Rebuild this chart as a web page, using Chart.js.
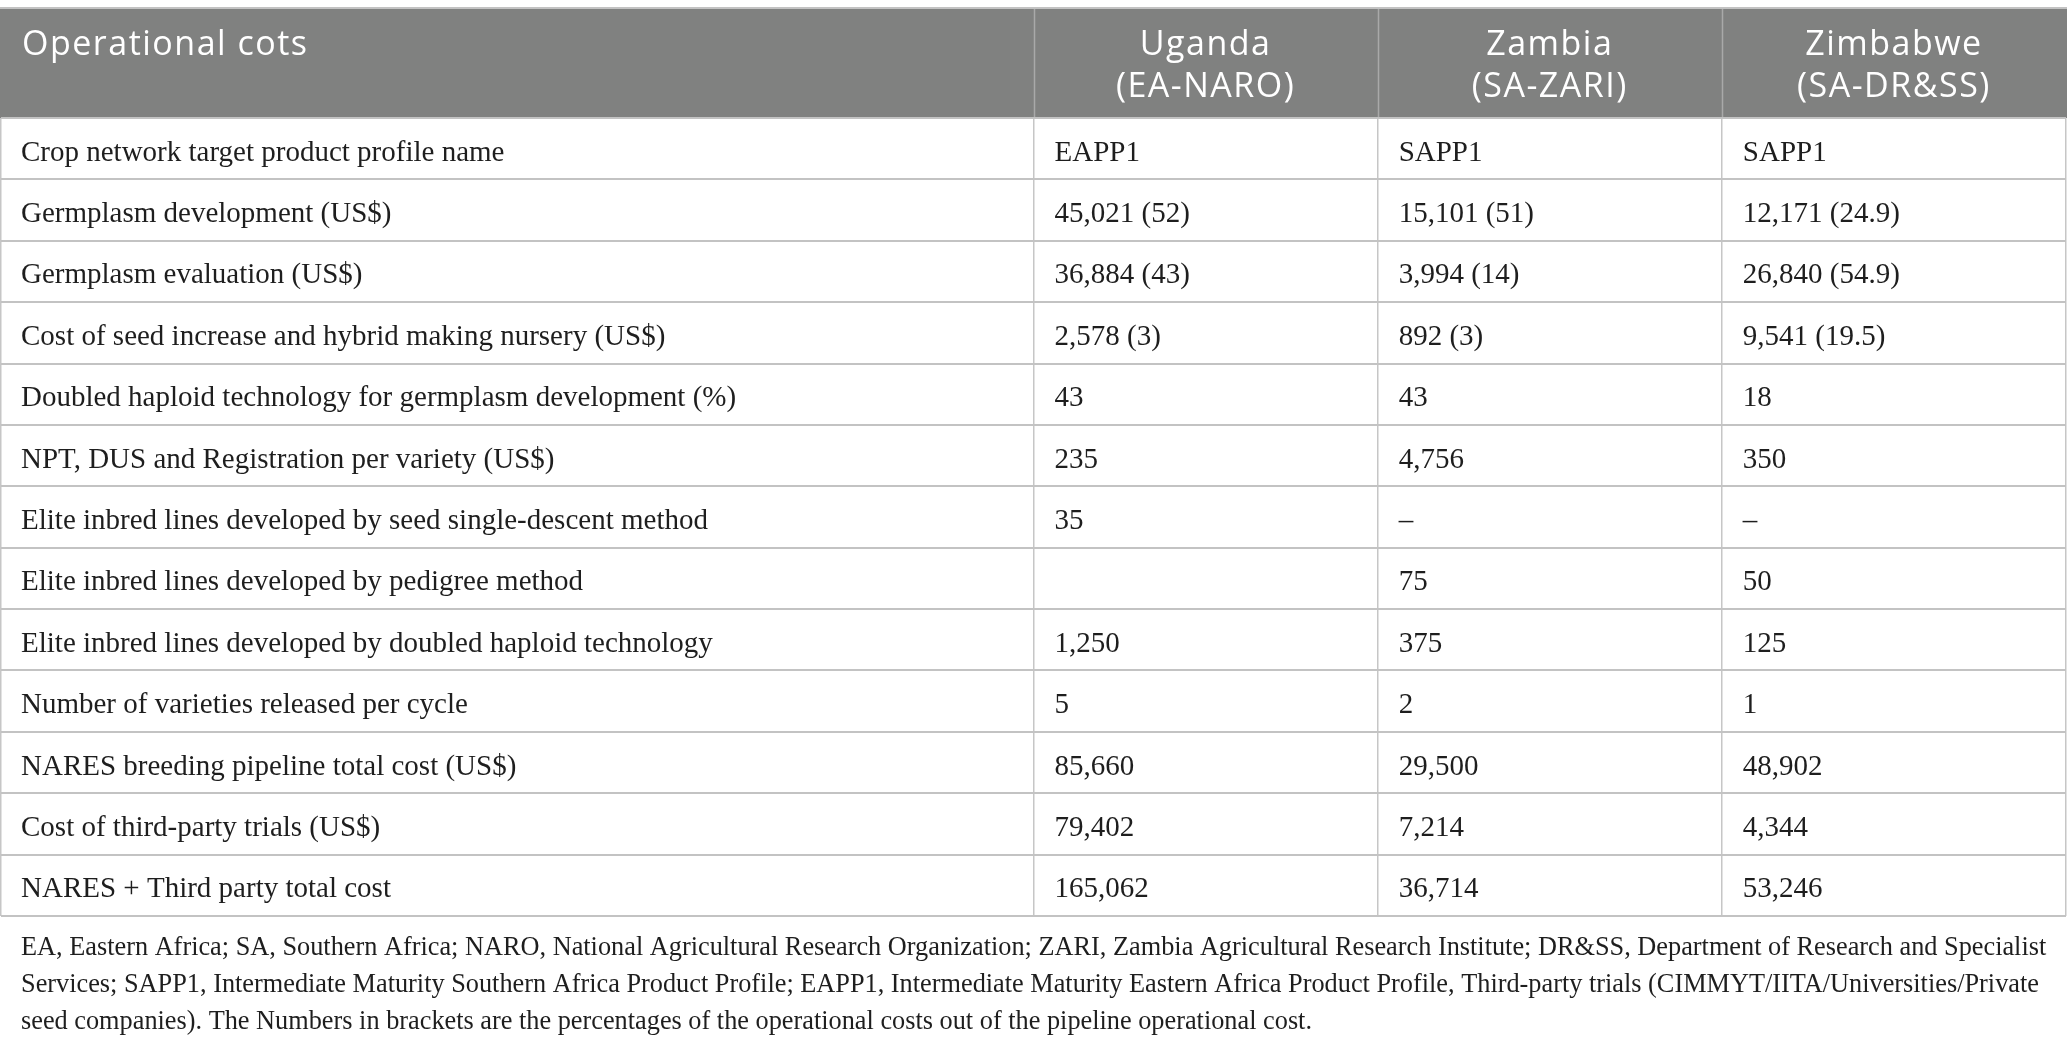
<!DOCTYPE html>
<html><head><meta charset="utf-8">
<script src="https://cdn.jsdelivr.net/npm/chart.js@4.4.1/dist/chart.umd.min.js"></script>
<style>html,body{margin:0;padding:0;background:#fff;overflow:hidden}canvas{display:block}</style>
</head><body>
<canvas id="c" width="2067" height="1048"></canvas>
<script>
// ---------- data ----------
const headerTitle = "Operational cots";
const countries = ["Uganda", "Zambia", "Zimbabwe"];
const programs = ["(EA-NARO)", "(SA-ZARI)", "(SA-DR&SS)"];
const rowLabels = [
  "Crop network target product profile name",
  "Germplasm development (US$)",
  "Germplasm evaluation (US$)",
  "Cost of seed increase and hybrid making nursery (US$)",
  "Doubled haploid technology for germplasm development (%)",
  "NPT, DUS and Registration per variety (US$)",
  "Elite inbred lines developed by seed single-descent method",
  "Elite inbred lines developed by pedigree method",
  "Elite inbred lines developed by doubled haploid technology",
  "Number of varieties released per cycle",
  "NARES breeding pipeline total cost (US$)",
  "Cost of third-party trials (US$)",
  "NARES + Third party total cost"
];
const ugandaValues = ["EAPP1", "45,021 (52)", "36,884 (43)", "2,578 (3)", "43", "235", "35", "", "1,250", "5", "85,660", "79,402", "165,062"];
const zambiaValues = ["SAPP1", "15,101 (51)", "3,994 (14)", "892 (3)", "43", "4,756", "–", "75", "375", "2", "29,500", "7,214", "36,714"];
const zimbabweValues = ["SAPP1", "12,171 (24.9)", "26,840 (54.9)", "9,541 (19.5)", "18", "350", "–", "50", "125", "1", "48,902", "4,344", "53,246"];
const footnoteLines = [
  "EA, Eastern Africa; SA, Southern Africa; NARO, National Agricultural Research Organization; ZARI, Zambia Agricultural Research Institute; DR&SS, Department of Research and Specialist",
  "Services; SAPP1, Intermediate Maturity Southern Africa Product Profile; EAPP1, Intermediate Maturity Eastern Africa Product Profile, Third-party trials (CIMMYT/IITA/Universities/Private",
  "seed companies). The Numbers in brackets are the percentages of the operational costs out of the pipeline operational cost."
];

// ---------- layout (not data) ----------
const colStart = [0, 3, 4, 5];
const colEnd = [3, 4, 5, 6];
const colEdges = [0, 3, 4, 5, 6];
const HEADER_TOP = 9;
const TABLE_TOP = 118;
const TABLE_BOTTOM = 916;
const CELL_PAD = 21;
const BODY_FONT = '29px "Liberation Serif"';
const HEAD_FONT = '34px "Open Sans"';
const NOTE_FONT = '26.3px "Liberation Serif"';
const TEXT_COLOR = '#1e1e1e';

const columns = [rowLabels, ugandaValues, zambiaValues, zimbabweValues];

const datasets = columns.map((texts, k) => ({
  label: k === 0 ? headerTitle : countries[k - 1],
  cellText: texts,
  data: rowLabels.map(r => ({ x: colStart[k], y: r })),
  pointRadius: 0,
  pointHoverRadius: 0,
  showLine: false
}));

const tablePlugin = {
  id: 'tablePlugin',
  beforeDraw(chart) {
    const { ctx, chartArea, scales } = chart;
    const xs = scales.x;
    ctx.save();
    // header background
    ctx.fillStyle = '#808180';
    ctx.fillRect(0, HEADER_TOP, chart.width, chartArea.top - HEADER_TOP);
    // top border
    ctx.fillStyle = '#c2c2c2';
    ctx.fillRect(0, HEADER_TOP - 2, chart.width, 2);
    // header separators
    ctx.strokeStyle = '#a9a9a9';
    ctx.lineWidth = 1.5;
    [3, 4, 5].forEach(v => {
      const px = Math.round(xs.getPixelForValue(v)) + 0.5;
      ctx.beginPath(); ctx.moveTo(px, HEADER_TOP); ctx.lineTo(px, chartArea.top); ctx.stroke();
    });
    // header text
    ctx.fillStyle = '#ffffff';
    ctx.font = HEAD_FONT;
    ctx.letterSpacing = '1.5px';
    ctx.textBaseline = 'alphabetic';
    ctx.textAlign = 'left';
    ctx.fillText(headerTitle, xs.getPixelForValue(0) + CELL_PAD, 55);
    ctx.textAlign = 'center';
    countries.forEach((c, i) => {
      const cx = (xs.getPixelForValue(colStart[i + 1]) + xs.getPixelForValue(colEnd[i + 1])) / 2;
      ctx.fillText(c, cx, 55);
      ctx.fillText(programs[i], cx, 97);
    });
    ctx.letterSpacing = '0px';
    // footnote
    ctx.fillStyle = TEXT_COLOR;
    ctx.font = NOTE_FONT;
    ctx.textAlign = 'left';
    footnoteLines.forEach((l, i) => {
      ctx.fillText(l, CELL_PAD, chartArea.bottom + 39 + i * 37.2);
    });
    ctx.restore();
  },
  afterDatasetsDraw(chart) {
    const { ctx } = chart;
    ctx.save();
    ctx.font = BODY_FONT;
    ctx.fillStyle = TEXT_COLOR;
    ctx.textAlign = 'left';
    ctx.textBaseline = 'alphabetic';
    chart.data.datasets.forEach((ds, k) => {
      const meta = chart.getDatasetMeta(k);
      meta.data.forEach((el, i) => {
        const t = ds.cellText[i];
        if (t) ctx.fillText(t, el.x + CELL_PAD - (k === 0 ? 1 : 0), el.y + 12);
      });
    });
    ctx.restore();
  }
};

new Chart(document.getElementById('c'), {
  type: 'scatter',
  data: { labels: rowLabels, datasets },
  options: {
    responsive: false,
    devicePixelRatio: 1,
    animation: false,
    events: [],
    layout: { padding: { top: TABLE_TOP, bottom: 1048 - TABLE_BOTTOM, left: 1, right: 1 } },
    plugins: { legend: { display: false }, tooltip: { enabled: false }, title: { display: false } },
    scales: {
      x: {
        type: 'linear', min: 0, max: 6,
        ticks: { display: false, stepSize: 1 },
        grid: {
          drawTicks: false,
          lineWidth: 1.5,
          color: c => colEdges.includes(c.tick && c.tick.value) ? '#c6c6c6' : 'rgba(0,0,0,0)'
        },
        border: { display: false }
      },
      y: {
        type: 'category', labels: rowLabels, offset: true,
        ticks: { display: false },
        grid: { offset: true, drawTicks: false, lineWidth: 2, color: '#c3c3c3' },
        border: { display: false }
      }
    }
  },
  plugins: [tablePlugin]
});
</script>
</body></html>
